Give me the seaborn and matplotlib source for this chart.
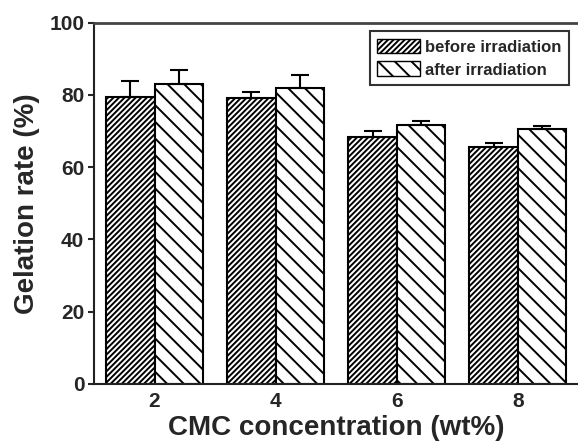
import numpy as np
import pandas as pd
import matplotlib
matplotlib.use("Agg")
import matplotlib.pyplot as plt
from matplotlib.patches import Patch
import seaborn as sns

# data
concentrations = ["2", "4", "6", "8"]
before = [79.5, 79.2, 68.5, 65.6]
before_err = [4.4, 1.6, 1.5, 1.0]
after = [83.0, 81.8, 71.6, 70.5]
after_err = [4.0, 3.7, 1.3, 0.8]
groups = ["before irradiation", "after irradiation"]
hatches = ["//////", "\\\\"]

sns.set_style("ticks")
plt.rcParams["font.family"] = ["Liberation Sans", "DejaVu Sans"]
plt.rcParams["font.weight"] = "bold"
plt.rcParams["axes.labelweight"] = "bold"
plt.rcParams["hatch.linewidth"] = 1.4
plt.rcParams["hatch.color"] = "black"

df = pd.DataFrame({
    "conc": concentrations * 2,
    "rate": before + after,
    "state": [groups[0]] * 4 + [groups[1]] * 4,
})

fig = plt.figure(figsize=(5.78, 4.48), dpi=100)
ax = fig.add_axes([0.1626, 0.1429, 0.8383, 0.8064])
sns.barplot(data=df, x="conc", y="rate", hue="state", hue_order=groups,
            order=concentrations, palette=["white", "white"], saturation=1,
            edgecolor="black", linewidth=1.5, errorbar=None, legend=False,
            width=0.8, ax=ax)

for cont, h, errs in zip(ax.containers, hatches, [before_err, after_err]):
    for bar in cont:
        bar.set_hatch(h)
    xs = [b.get_x() + b.get_width() / 2 for b in cont]
    ys = [b.get_height() for b in cont]
    ax.errorbar(xs, ys, yerr=[np.zeros(len(errs)), errs], fmt="none",
                ecolor="black", elinewidth=1.5, capsize=6.5, capthick=1.5)

ax.set_xlim(-0.5, 3.5)
ax.set_ylim(0, 100)
ax.set_yticks(range(0, 101, 20))
ax.set_xlabel("CMC concentration (wt%)", fontsize=20, fontweight="bold", labelpad=3)
ax.set_ylabel("Gelation rate (%)", fontsize=20, fontweight="bold", labelpad=7)
ax.tick_params(axis="y", direction="out", length=4, width=1.5, labelsize=15, pad=3)
ax.tick_params(axis="x", length=0, labelsize=15, pad=6)
for lab in ax.get_xticklabels() + ax.get_yticklabels():
    lab.set_fontweight("bold")

ax.spines["right"].set_visible(False)
for s in ["left", "bottom"]:
    ax.spines[s].set_linewidth(1.5)
    ax.spines[s].set_color("#222222")
ax.spines["top"].set_linewidth(2)
ax.spines["top"].set_color("#444444")

handles = [Patch(facecolor="white", edgecolor="black", hatch=h, label=g)
           for h, g in zip(hatches, groups)]
leg = ax.legend(handles=handles, loc="upper right", bbox_to_anchor=(0.981, 0.977),
                borderaxespad=0, fancybox=False, frameon=True, edgecolor="black",
                prop={"size": 12, "weight": "bold"}, handlelength=2.6,
                handleheight=1.0, handletextpad=0.3, labelspacing=0.4,
                borderpad=0.45)
leg.get_frame().set_linewidth(1.5)

fig.savefig("out.png", dpi=100)
